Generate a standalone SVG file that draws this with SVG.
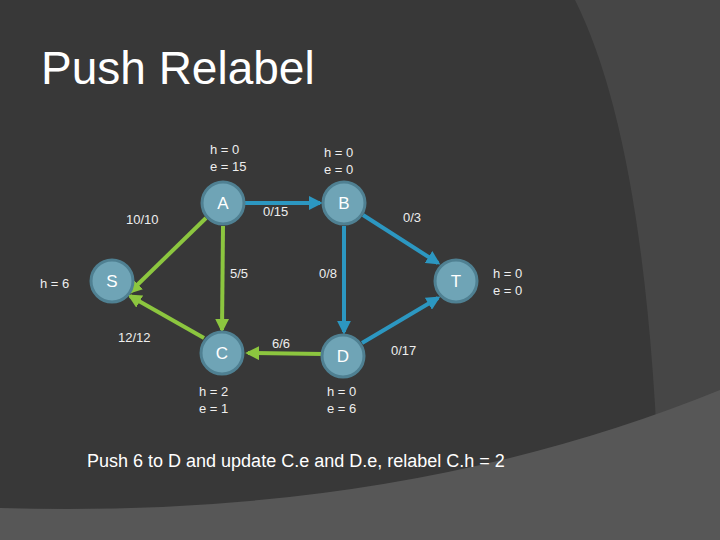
<svg xmlns="http://www.w3.org/2000/svg" width="720" height="540" viewBox="0 0 720 540">
<defs>
<style>
text{font-family:"Liberation Sans",Arial,sans-serif;fill:#fff}
.n circle{fill:#6fa4b6;stroke:#4f8092;stroke-width:3}
.n text{font-size:17px;text-anchor:middle}
.l{font-size:13px;fill:#eee}
.g{stroke:#8cc63f;stroke-width:4;fill:none}
.b{stroke:#2c97c1;stroke-width:4;fill:none}
</style>
<marker id="ag" viewBox="0 0 10 10" refX="8" refY="5" markerWidth="3.5" markerHeight="3.5" orient="auto"><path d="M0,0L10,5L0,10z" fill="#8cc63f"/></marker>
<marker id="ab" viewBox="0 0 10 10" refX="8" refY="5" markerWidth="3.5" markerHeight="3.5" orient="auto"><path d="M0,0L10,5L0,10z" fill="#2c97c1"/></marker>
</defs>
<rect width="720" height="540" fill="#383838"/>
<path d="M575,0 Q650,150 660,520 L720,540 L720,0 Z" fill="#464646"/>
<path d="M0,508 Q400,520 720,390 L720,540 L0,540 Z" fill="#575757"/>
<text x="41" y="84" font-size="46">Push Relabel</text>
<g id="connectors">
<line class="g" x1="206" y1="218" x2="130" y2="292" marker-end="url(#ag)"/>
<line class="g" x1="223" y1="226" x2="222" y2="330" marker-end="url(#ag)"/>
<line class="g" x1="204" y1="338" x2="130" y2="296" marker-end="url(#ag)"/>
<path class="g" d="M323,354 L248,353" marker-end="url(#ag)"/>
<line class="b" x1="245" y1="203" x2="320" y2="203" marker-end="url(#ab)"/>
<line class="b" x1="344" y1="226" x2="344" y2="332" marker-end="url(#ab)"/>
<line class="b" x1="363" y1="215" x2="438" y2="263" marker-end="url(#ab)"/>
<line class="b" x1="362" y1="343" x2="438" y2="298" marker-end="url(#ab)"/>
</g>
<g id="node-A" class="n"><circle cx="223" cy="203" r="21"/><text x="223" y="209">A</text></g>
<g id="node-B" class="n"><circle cx="344" cy="203" r="21"/><text x="344" y="209">B</text></g>
<g id="node-S" class="n"><circle cx="112" cy="281" r="21"/><text x="112" y="287">S</text></g>
<g id="node-T" class="n"><circle cx="456" cy="281" r="21"/><text x="456" y="287">T</text></g>
<g id="node-C" class="n"><circle cx="222" cy="353" r="21"/><text x="222" y="359">C</text></g>
<g id="node-D" class="n"><circle cx="343" cy="356" r="21"/><text x="343" y="362">D</text></g>
<g id="labels" class="l">
<text class="l" x="210" y="154">h = 0</text><text class="l" x="210" y="171">e = 15</text>
<text class="l" x="324" y="157">h = 0</text><text class="l" x="324" y="174">e = 0</text>
<text class="l" x="40" y="288">h = 6</text>
<text class="l" x="493" y="278">h = 0</text><text class="l" x="493" y="295">e = 0</text>
<text class="l" x="199" y="396">h = 2</text><text class="l" x="199" y="413">e = 1</text>
<text class="l" x="327" y="396">h = 0</text><text class="l" x="327" y="413">e = 6</text>
<text class="l" x="126" y="224">10/10</text>
<text class="l" x="263" y="216">0/15</text>
<text class="l" x="403" y="222">0/3</text>
<text class="l" x="230" y="278">5/5</text>
<text class="l" x="319" y="278">0/8</text>
<text class="l" x="118" y="342">12/12</text>
<text class="l" x="272" y="348">6/6</text>
<text class="l" x="391" y="355">0/17</text>
</g>
<text x="87" y="467" font-size="18">Push 6 to D and update C.e and D.e, relabel C.h = 2</text>
</svg>
